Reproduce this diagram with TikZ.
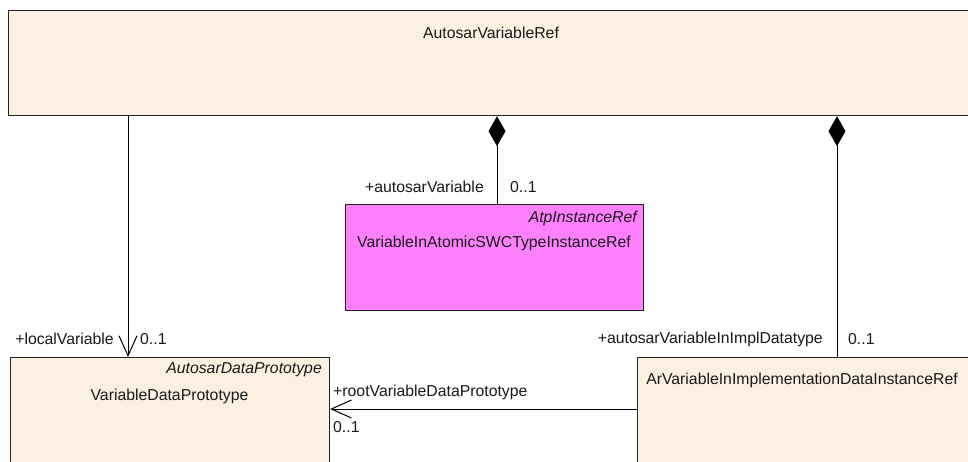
\documentclass[tikz,border=0pt]{standalone}
\usepackage{fontspec}
\setmainfont{Liberation Sans}
\usetikzlibrary{arrows.meta}
\definecolor{beige}{RGB}{251,240,226}
\definecolor{magentabox}{RGB}{255,128,255}
\definecolor{border}{RGB}{35,35,35}
\begin{document}
\begin{tikzpicture}[x=1pt,y=-1pt,
  cls/.style={draw=border,line width=1.2pt,fill=beige,anchor=north west,inner sep=0pt},
  atp/.style={cls,fill=magentabox},
  txt/.style={inner sep=0pt,font=\fontsize{15.8}{18}\selectfont,text=black!90},
  ster/.style={txt,font=\fontsize{15.8}{18}\selectfont\itshape},
  conn/.style={draw=black,line width=1pt},
  comp/.style={conn,{Diamond[length=30pt,width=17pt]}-},
  nav/.style={conn,-{Straight Barb[length=20pt,width=18pt,line width=1pt]}}
]
\useasboundingbox (0,0) rectangle (968,461);
\clip (0,0) rectangle (968,461);
\fill[white] (0,0) rectangle (968,461);

% classes
\node[cls,minimum width=967pt,minimum height=105pt] (avr) at (8,10) {};
\node[txt] (avrname) at (491,33) {AutosarVariableRef};

\node[cls,minimum width=319pt,minimum height=120pt] (vdp) at (10,357) {};
\node[ster,anchor=east] (vdpst) at (322,370) {AutosarDataPrototype};
\node[txt] (vdpname) at (169.5,396) {VariableDataPrototype};

\node[atp,minimum width=298pt,minimum height=106pt] (atpbox) at (345,204) {};
\node[ster,anchor=east] (atpst) at (637,218) {AtpInstanceRef};
\node[txt] (atpname) at (494,243) {VariableInAtomicSWCTypeInstanceRef};

\node[cls,minimum width=335pt,minimum height=120pt] (arv) at (637,357) {};
\node[txt] (arvname) at (802,380) {ArVariableInImplementationDataInstanceRef};

% connector positions
\coordinate (c1) at (128,0);
\coordinate (c2) at (497,0);
\coordinate (c3) at (837,0);
\coordinate (c4) at (0,409);

\draw[nav] (avr.south -| c1) -- (vdp.north -| c1);
\draw[comp] (avr.south -| c2) -- (atpbox.north -| c2);
\draw[comp] (avr.south -| c3) -- (arv.north -| c3);
\draw[nav] (arv.west |- c4) -- (vdp.east |- c4);

% labels
\node[txt,anchor=east] (l1) at (114,339) {+localVariable};
\node[txt,anchor=west] (m1) at (140,339) {0..1};
\node[txt,anchor=east] (l2) at (484,187) {+autosarVariable};
\node[txt,anchor=west] (m2) at (510,187) {0..1};
\node[txt,anchor=east] (l3) at (823,339) {+autosarVariableInImplDatatype};
\node[txt,anchor=west] (m3) at (848,339) {0..1};
\node[txt,anchor=west] (l4) at (333,392) {+rootVariableDataPrototype};
\node[txt,anchor=west] (m4) at (333,427) {0..1};
\end{tikzpicture}
\end{document}
